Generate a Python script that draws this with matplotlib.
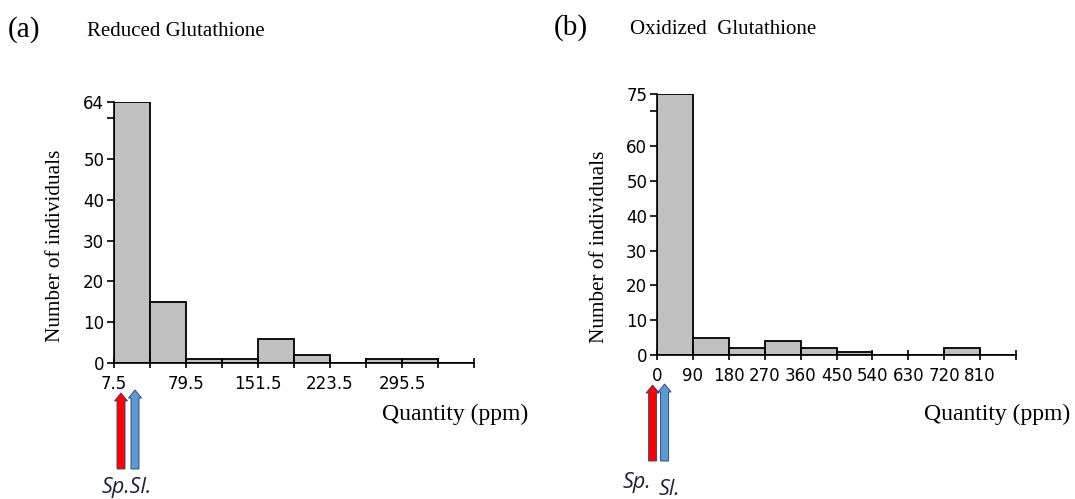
import matplotlib
matplotlib.use("Agg")
import matplotlib.pyplot as plt
from matplotlib.patches import FancyArrow

# Reduced glutathione histogram (ppm)
red_edges = [7.5, 43.5, 79.5, 115.5, 151.5, 187.5, 223.5, 259.5, 295.5, 331.5, 367.5]
red_counts = [64, 15, 1, 1, 6, 2, 0, 1, 1, 0]
red_xticklabels = ["7.5", "", "79.5", "", "151.5", "", "223.5", "", "295.5", "", ""]
red_yticks = [0, 10, 20, 30, 40, 50, 60, 64]
red_yticklabels = ["0", "10", "20", "30", "40", "50", "", "64"]

# Oxidized glutathione histogram (ppm)
ox_edges = [0, 90, 180, 270, 360, 450, 540, 630, 720, 810, 900]
ox_counts = [75, 5, 2, 4, 2, 1, 0, 0, 2, 0]
ox_xticklabels = ["0", "90", "180", "270", "360", "450", "540", "630", "720", "810", ""]
ox_yticks = [0, 10, 20, 30, 40, 50, 60, 70, 75]
ox_yticklabels = ["0", "10", "20", "30", "40", "50", "60", "", "75"]

# Values of the two species, Sp. (red) and Sl. (blue), in ppm
red_species = [14.5, 28.5]
ox_species = [-11.0, 19.0]
species_colors = ["#ff0000", "#5b9bd5"]

SERIF = "Liberation Serif"
TICKFONT = "DejaVu Sans"
BAR_FACE = "#c0c0c0"
W, H = 1075, 499

fig = plt.figure(figsize=(W / 100, H / 100), dpi=100)


def px_rect(left, top, right, bottom):
    return [left / W, 1 - bottom / H, (right - left) / W, (bottom - top) / H]


def histogram_panel(rect, edges, counts, ymax, yticks, yticklabels, xticklabels):
    ax = fig.add_axes(rect)
    widths = [edges[i + 1] - edges[i] for i in range(len(counts))]
    ax.bar(edges[:-1], counts, width=widths, align="edge",
           color=BAR_FACE, edgecolor="black", linewidth=1.3)
    ax.set_xlim(edges[0], edges[-1])
    ax.set_ylim(0, ymax)
    ax.spines["top"].set_visible(False)
    ax.spines["right"].set_visible(False)
    ax.spines["left"].set_linewidth(1.2)
    ax.spines["bottom"].set_linewidth(1.2)
    ax.set_xticks(edges)
    ax.set_xticklabels(xticklabels, fontfamily=TICKFONT, fontsize=12)
    ax.set_yticks(yticks)
    ax.set_yticklabels(yticklabels, fontfamily=TICKFONT, fontsize=12)
    ax.tick_params(axis="x", direction="inout", length=7, width=1.2, pad=5)
    ax.tick_params(axis="y", direction="out", length=5, width=1.2, pad=2)
    return ax


def draw_arrow(ax, x, y_bottom, y_top, color):
    # vertical block arrow; x in data units, y in pixels from the top edge
    xf = ax.transData.transform((x, 0))[0] / fig.bbox.width
    base = 1 - y_bottom / H
    top = 1 - y_top / H
    fig.add_artist(FancyArrow(xf, base, 0, top - base, width=8 / W,
                              head_width=13 / W, head_length=8 / H,
                              length_includes_head=True,
                              transform=fig.transFigure,
                              facecolor=color, edgecolor="#3a4a78",
                              linewidth=0.7))


ax_a = histogram_panel(px_rect(114, 102, 474, 363), red_edges, red_counts, 64,
                       red_yticks, red_yticklabels, red_xticklabels)
ax_b = histogram_panel(px_rect(657, 94, 1016, 355), ox_edges, ox_counts, 75,
                       ox_yticks, ox_yticklabels, ox_xticklabels)

for x, col, top in zip(red_species, species_colors, [393, 390]):
    draw_arrow(ax_a, x, 469, top, col)
for x, col, top in zip(ox_species, species_colors, [385, 384]):
    draw_arrow(ax_b, x, 461, top, col)

# Axis titles
for cx, cy in [(56, 246), (600, 247)]:
    fig.text(cx / W, 1 - cy / H, "Number of individuals", fontfamily=SERIF,
             fontsize=15.3, rotation=90, ha="center", va="center")
fig.text(382 / W, 1 - 414 / H, "Quantity (ppm)", fontfamily=SERIF,
         fontsize=17, va="center")
fig.text(924 / W, 1 - 414 / H, "Quantity (ppm)", fontfamily=SERIF,
         fontsize=17, va="center")

# Panel titles
fig.text(8 / W, 1 - 30 / H, "(a)", fontfamily=SERIF, fontsize=21, va="center")
fig.text(87 / W, 1 - 32 / H, "Reduced Glutathione", fontfamily=SERIF,
         fontsize=15, va="center")
fig.text(554 / W, 1 - 28 / H, "(b)", fontfamily=SERIF, fontsize=21, va="center")
fig.text(630 / W, 1 - 30 / H, "Oxidized  Glutathione", fontfamily=SERIF,
         fontsize=15, va="center")

# Species labels
SPFONT = dict(fontfamily="Open Sans", fontstyle="italic", fontsize=15.5,
              color="#1c2238", va="baseline")
fig.text(102 / W, 1 - 493 / H, "Sp.Sl.", **SPFONT)
fig.text(623 / W, 1 - 488 / H, "Sp.", **SPFONT)
fig.text(659 / W, 1 - 495 / H, "Sl.", **SPFONT)

fig.savefig("out.png", dpi=100)
